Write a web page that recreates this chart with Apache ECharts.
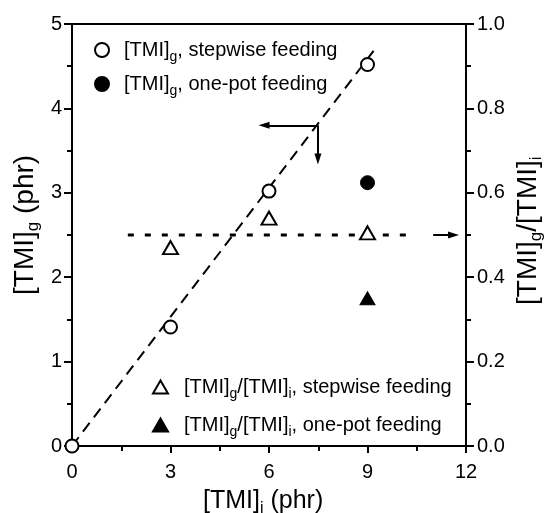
<!DOCTYPE html>
<html>
<head>
<meta charset="utf-8">
<script src="https://cdn.jsdelivr.net/npm/echarts@6/dist/echarts.min.js"></script>
<style>
html,body{margin:0;padding:0;background:#fff;}
#chart{width:544px;height:513px;}
</style>
</head>
<body>
<div id="chart"></div>
<script>
// ---- data ----
var xTicks = [0, 3, 6, 9, 12];
var leftTicks = [0, 1, 2, 3, 4, 5];
var rightTicks = [0.0, 0.2, 0.4, 0.6, 0.8, 1.0];

var gStepwiseX = [0, 3, 6, 9];
var gStepwiseY = [0, 1.41, 3.02, 4.52];
var gOnePotX = [9];
var gOnePotY = [3.12];
var ratioStepwiseX = [3, 6, 9];
var ratioStepwiseY = [0.47, 0.54, 0.505];
var ratioOnePotX = [9];
var ratioOnePotY = [0.35];

var fitLineX = [0, 9.3];
var fitLineY = [0, 4.74];
var refLineX = [1.7, 10.4];
var refLineY = [0.5, 0.5];

var arrowLeft = [[7.49, 3.8], [5.85, 3.8]];
var arrowDown = [[7.49, 3.8], [7.49, 3.4]];
var arrowRight = [[11.0, 0.5], [11.62, 0.5]];

function zip(xs, ys) { return xs.map(function (x, i) { return [x, ys[i]]; }); }

var FONT = 'Liberation Sans, Arial, sans-serif';
var richLegend = {
  b: { fontSize: 20, fontFamily: FONT, color: '#000', lineHeight: 28 },
  s: { fontSize: 14, fontFamily: FONT, color: '#000', lineHeight: 14, verticalAlign: 'bottom' }
};
function richTitle(size) {
  return {
    b: { fontSize: size, fontFamily: FONT, color: '#000', lineHeight: size + 6 },
    s: { fontSize: Math.round(size * 0.62), fontFamily: FONT, color: '#000', lineHeight: Math.round(size * 0.62), verticalAlign: 'bottom' }
  };
}

var names = { a: 'gStep', b: 'gOne', c: 'rStep', d: 'rOne' };
var labels = {
  gStep: '{b|[TMI]}{s|g}{b|, stepwise feeding}',
  gOne: '{b|[TMI]}{s|g}{b|, one-pot feeding}',
  rStep: '{b|[TMI]}{s|g}{b|/[TMI]}{s|i}{b|, stepwise feeding}',
  rOne: '{b|[TMI]}{s|g}{b|/[TMI]}{s|i}{b|, one-pot feeding}'
};

var openStyle = { color: '#fff', borderColor: '#000', borderWidth: 2, opacity: 1 };
var fillStyle = { color: '#000', borderColor: '#000', borderWidth: 1, opacity: 1 };
var arrowLineStyle = { color: '#000', width: 2, type: 'solid', opacity: 1 };
var axisLineStyle = { color: '#000', width: 2 };

var option = {
  animation: false,
  backgroundColor: '#fff',
  grid: { left: 72, right: 78, top: 24, bottom: 67, show: false },
  legend: [
    {
      data: [names.a, names.b],
      orient: 'vertical', left: 94, top: 40, padding: 0, itemWidth: 14, itemHeight: 14, itemGap: 10,
      formatter: function (n) { return labels[n]; },
      textStyle: { rich: richLegend, padding: [0, 0, 0, 10] },
      selectedMode: false
    },
    {
      data: [names.c, names.d],
      orient: 'vertical', left: 152, top: 377, padding: 0, itemWidth: 15, itemHeight: 13, itemGap: 14,
      formatter: function (n) { return labels[n]; },
      textStyle: { rich: richLegend, padding: [0, 0, 0, 11] },
      selectedMode: false
    }
  ],
  xAxis: [
    {
      type: 'value', min: 0, max: 12, interval: 3, position: 'bottom',
      axisLine: { show: true, onZero: false, lineStyle: axisLineStyle },
      axisTick: { show: true, inside: false, length: 7, lineStyle: axisLineStyle },
      minorTick: { show: true, splitNumber: 2, length: 5, lineStyle: axisLineStyle },
      axisLabel: { color: '#000', fontSize: 20, fontFamily: FONT, margin: 16,
        formatter: function (v) { return xTicks.indexOf(v) >= 0 ? String(v) : ''; } },
      splitLine: { show: false }
    },
    {
      type: 'value', min: 0, max: 12, position: 'top',
      axisLine: { show: true, onZero: false, lineStyle: axisLineStyle },
      axisTick: { show: false }, axisLabel: { show: false }, splitLine: { show: false }
    }
  ],
  yAxis: [
    {
      type: 'value', min: 0, max: 5, interval: 1, position: 'left',
      axisLine: { show: true, onZero: false, lineStyle: axisLineStyle },
      axisTick: { show: true, length: 8, lineStyle: axisLineStyle },
      minorTick: { show: true, splitNumber: 2, length: 5, lineStyle: axisLineStyle },
      axisLabel: { color: '#000', fontSize: 20, fontFamily: FONT, margin: 10,
        formatter: function (v) { return leftTicks.indexOf(v) >= 0 ? String(v) : ''; } },
      splitLine: { show: false }
    },
    {
      type: 'value', min: 0, max: 1, interval: 0.2, position: 'right',
      axisLine: { show: true, onZero: false, lineStyle: axisLineStyle },
      axisTick: { show: true, length: 8, lineStyle: axisLineStyle },
      minorTick: { show: true, splitNumber: 2, length: 5, lineStyle: axisLineStyle },
      axisLabel: { color: '#000', fontSize: 20, fontFamily: FONT, margin: 11,
        formatter: function (v) { return v.toFixed(1); } },
      splitLine: { show: false }
    }
  ],
  graphic: [
    {
      type: 'text', left: 203, top: 489,
      style: { text: '{b|[TMI]}{s|i}{b| (phr)}', rich: richTitle(25) }
    },
    {
      type: 'text', x: 8, y: 295, rotation: Math.PI / 2,
      style: { text: '{b|[TMI]}{s|g}{b| (phr)}', rich: richTitle(28) }
    },
    {
      type: 'text', x: 511, y: 305, rotation: Math.PI / 2,
      style: { text: '{b|[TMI]}{s|g}{b|/[TMI]}{s|i}', rich: richTitle(28) }
    }
  ],
  series: [
    {
      type: 'line', xAxisIndex: 0, yAxisIndex: 0, data: zip(fitLineX, fitLineY),
      symbol: 'none', lineStyle: { color: '#000', width: 2, type: [11, 7] }, z: 1, silent: true
    },
    {
      type: 'line', xAxisIndex: 0, yAxisIndex: 1, data: zip(refLineX, refLineY),
      symbol: 'none', lineStyle: { color: '#000', width: 3, type: [6, 11] }, z: 1, silent: true
    },
    {
      type: 'line', xAxisIndex: 0, yAxisIndex: 0, data: [], symbol: 'none',
      markLine: {
        silent: true, symbol: ['none', 'triangle'], symbolSize: [7, 11],
        lineStyle: arrowLineStyle, itemStyle: { color: '#000' }, label: { show: false },
        data: [
          [{ coord: arrowLeft[0] }, { coord: arrowLeft[1] }],
          [{ coord: arrowDown[0] }, { coord: arrowDown[1] }]
        ]
      }
    },
    {
      type: 'line', xAxisIndex: 0, yAxisIndex: 1, data: [], symbol: 'none',
      markLine: {
        silent: true, symbol: ['none', 'triangle'], symbolSize: [7, 11],
        lineStyle: arrowLineStyle, itemStyle: { color: '#000' }, label: { show: false },
        data: [[{ coord: arrowRight[0] }, { coord: arrowRight[1] }]]
      }
    },
    {
      name: names.a, type: 'scatter', xAxisIndex: 0, yAxisIndex: 0,
      data: zip(gStepwiseX, gStepwiseY), symbol: 'circle', symbolSize: 13,
      itemStyle: openStyle, z: 5
    },
    {
      name: names.b, type: 'scatter', xAxisIndex: 0, yAxisIndex: 0,
      data: zip(gOnePotX, gOnePotY), symbol: 'circle', symbolSize: 14,
      itemStyle: fillStyle, z: 5
    },
    {
      name: names.c, type: 'scatter', xAxisIndex: 0, yAxisIndex: 1,
      data: zip(ratioStepwiseX, ratioStepwiseY), symbol: 'triangle', symbolSize: [15, 13],
      itemStyle: openStyle, z: 5
    },
    {
      name: names.d, type: 'scatter', xAxisIndex: 0, yAxisIndex: 1,
      data: zip(ratioOnePotX, ratioOnePotY), symbol: 'triangle', symbolSize: [15, 13],
      itemStyle: fillStyle, z: 5
    }
  ]
};

var chart = echarts.init(document.getElementById('chart'), null, { renderer: 'canvas' });
chart.setOption(option);
</script>
</body>
</html>
